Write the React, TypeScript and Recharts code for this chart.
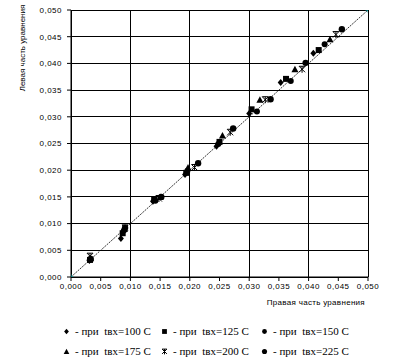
import React from 'react';
import { ScatterChart, Scatter, XAxis, YAxis, CartesianGrid } from 'recharts';

// tick values for both axes
const TICKS = [0, 0.005, 0.01, 0.015, 0.02, 0.025, 0.03, 0.035, 0.04, 0.045, 0.05];

// [right side, left side] per inlet temperature
const T100 = [[0.0031, 0.0031], [0.0084, 0.0072], [0.0138, 0.0142], [0.0192, 0.0192], [0.0245, 0.0245], [0.0300, 0.0306], [0.0353, 0.0364], [0.0408, 0.0419]];
const T125 = [[0.0032, 0.0032], [0.0087, 0.0082], [0.0140, 0.0145], [0.0194, 0.0195], [0.0250, 0.0253], [0.0304, 0.0314], [0.0362, 0.0371], [0.0417, 0.0425]];
const T150 = [[0.0033, 0.0033], [0.0089, 0.0087], [0.0142, 0.0143], [0.0196, 0.0199], [0.0248, 0.0249], [0.0313, 0.0310], [0.0370, 0.0367], [0.0427, 0.0436]];
const T175 = [[0.0033, 0.0035], [0.0090, 0.0090], [0.0150, 0.0150], [0.0197, 0.0205], [0.0255, 0.0265], [0.0318, 0.0332], [0.0377, 0.0389], [0.0436, 0.0445]];
const T200 = [[0.0032, 0.0039], [0.0091, 0.0092], [0.0148, 0.0147], [0.0208, 0.0205], [0.0268, 0.0271], [0.0327, 0.0332], [0.0389, 0.0389], [0.0446, 0.0454]];
const T225 = [[0.0033, 0.0034], [0.0091, 0.0092], [0.0152, 0.0150], [0.0214, 0.0213], [0.0273, 0.0278], [0.0336, 0.0333], [0.0395, 0.0401], [0.0456, 0.0464]];
const DIAG = [[0, 0], [0.05, 0.05]];

const LEGEND_TEXT = ['- при  tвх=100 С', '- при  tвх=125 С', '- при  tвх=150 С', '- при  tвх=175 С', '- при  tвх=200 С', '- при  tвх=225 С'];

const toPts = (arr: number[][]) => arr.map(([x, y]) => ({ x, y }));
const fmt = (v: number) => v.toFixed(3).replace('.', ',');

type Kind = 'diamond' | 'square' | 'circle' | 'triangle' | 'star' | 'dot';

function mark(kind: Kind, cx: number, cy: number, k = 1) {
  switch (kind) {
    case 'diamond':
      return <polygon points={`${cx},${cy - 3.5 * k} ${cx + 3 * k},${cy} ${cx},${cy + 3.5 * k} ${cx - 3 * k},${cy}`} fill="#000" />;
    case 'square':
      return <rect x={cx - 3 * k} y={cy - 3 * k} width={6 * k} height={6 * k} fill="#000" />;
    case 'circle':
      return <circle cx={cx} cy={cy} r={3 * k} fill="#000" />;
    case 'dot':
      return <circle cx={cx} cy={cy} r={3.2 * k} fill="#000" />;
    case 'triangle':
      return <polygon points={`${cx},${cy - 3.5 * k} ${cx + 3.5 * k},${cy + 3 * k} ${cx - 3.5 * k},${cy + 3 * k}`} fill="#000" />;
    case 'star': {
      const r = 3 * k;
      return (
        <path
          d={`M${cx - r},${cy - r}L${cx + r},${cy + r}M${cx + r},${cy - r}L${cx - r},${cy + r}M${cx},${cy - r}L${cx},${cy + r + 0.5}M${cx - r},${cy - r}L${cx + r},${cy - r}`}
          stroke="#000"
          strokeWidth={1}
          fill="none"
        />
      );
    }
  }
}

const shapeOf = (kind: Kind) => (p: any) => <g>{mark(kind, p.cx, p.cy)}</g>;

const SERIES: { data: number[][]; kind: Kind }[] = [
  { data: T100, kind: 'diamond' },
  { data: T125, kind: 'square' },
  { data: T150, kind: 'circle' },
  { data: T175, kind: 'triangle' },
  { data: T200, kind: 'star' },
  { data: T225, kind: 'dot' },
];

const FONT = 'Liberation Sans, Arial, sans-serif';
const tickStyle = { fill: '#000', fontSize: 8, fontFamily: FONT, letterSpacing: 0.5 };

export default function App() {
  return (
    <div style={{ position: 'absolute', left: 0, top: 0, width: 398, height: 363, background: '#fff' }}>
      <ScatterChart width={398} height={363} margin={{ top: 10, right: 30, left: 0, bottom: 56 }}>
        <CartesianGrid
          stroke="#000"
          strokeWidth={1}
          horizontalValues={TICKS}
          verticalValues={TICKS}
          shapeRendering="crispEdges"
        />
        <XAxis
          type="number"
          dataKey="x"
          domain={[0, 0.05]}
          ticks={TICKS}
          tickFormatter={fmt}
          tick={tickStyle}
          tickSize={4}
          tickMargin={2}
          stroke="#000"
          height={30}
          allowDataOverflow
          label={{
            content: (p: any) => (
              <text
                x={p.viewBox.x + p.viewBox.width - 3}
                y={p.viewBox.y + 28}
                textAnchor="end"
                fontSize={8}
                fontFamily={FONT}
                letterSpacing={0.3}
                fill="#000"
              >
                Правая часть уравнения
              </text>
            ),
          }}
        />
        <YAxis
          type="number"
          dataKey="y"
          domain={[0, 0.05]}
          ticks={TICKS}
          tickFormatter={fmt}
          tick={tickStyle}
          tickSize={4}
          tickMargin={5}
          stroke="#000"
          width={71}
          allowDataOverflow
          label={{
            content: (p: any) => {
              const x = p.viewBox.x + 25;
              const y = p.viewBox.y + 38;
              return (
                <text
                  x={x}
                  y={y}
                  transform={`rotate(-90 ${x} ${y})`}
                  textAnchor="middle"
                  fontSize={8}
                  fontFamily={FONT}
                  fill="#000"
                >
                  Левая часть уравнения
                </text>
              );
            },
          }}
        />
        <Scatter
          data={toPts(DIAG)}
          line={{ stroke: '#000', strokeWidth: 0.8, strokeDasharray: '2 1' }}
          shape={(p: any) => (
            <path
              d={`M${p.cx - 2.5},${p.cy}L${p.cx + 2.5},${p.cy}M${p.cx},${p.cy - 2.5}L${p.cx},${p.cy + 2.5}`}
              stroke="#00a3a3"
              strokeWidth={1}
            />
          )}
          isAnimationActive={false}
        />
        {SERIES.map((s, i) => (
          <Scatter key={i} data={toPts(s.data)} shape={shapeOf(s.kind)} isAnimationActive={false} />
        ))}
      </ScatterChart>
      <div
        style={{
          position: 'absolute',
          left: 62,
          top: 321,
          width: 320,
          display: 'grid',
          gridTemplateColumns: '98px 100px 100px',
          rowGap: 0,
          fontFamily: 'Liberation Serif, Times New Roman, serif',
          fontSize: 11,
          lineHeight: '20px',
          color: '#000',
        }}
      >
        {SERIES.map((s, i) => (
          <div key={i} style={{ display: 'flex', alignItems: 'center', whiteSpace: 'pre' }}>
            <svg width={9} height={9} style={{ marginRight: 4 }}>
              {mark(s.kind, 4.5, 4.5, 0.8)}
            </svg>
            <span>{LEGEND_TEXT[i]}</span>
          </div>
        ))}
      </div>
    </div>
  );
}
